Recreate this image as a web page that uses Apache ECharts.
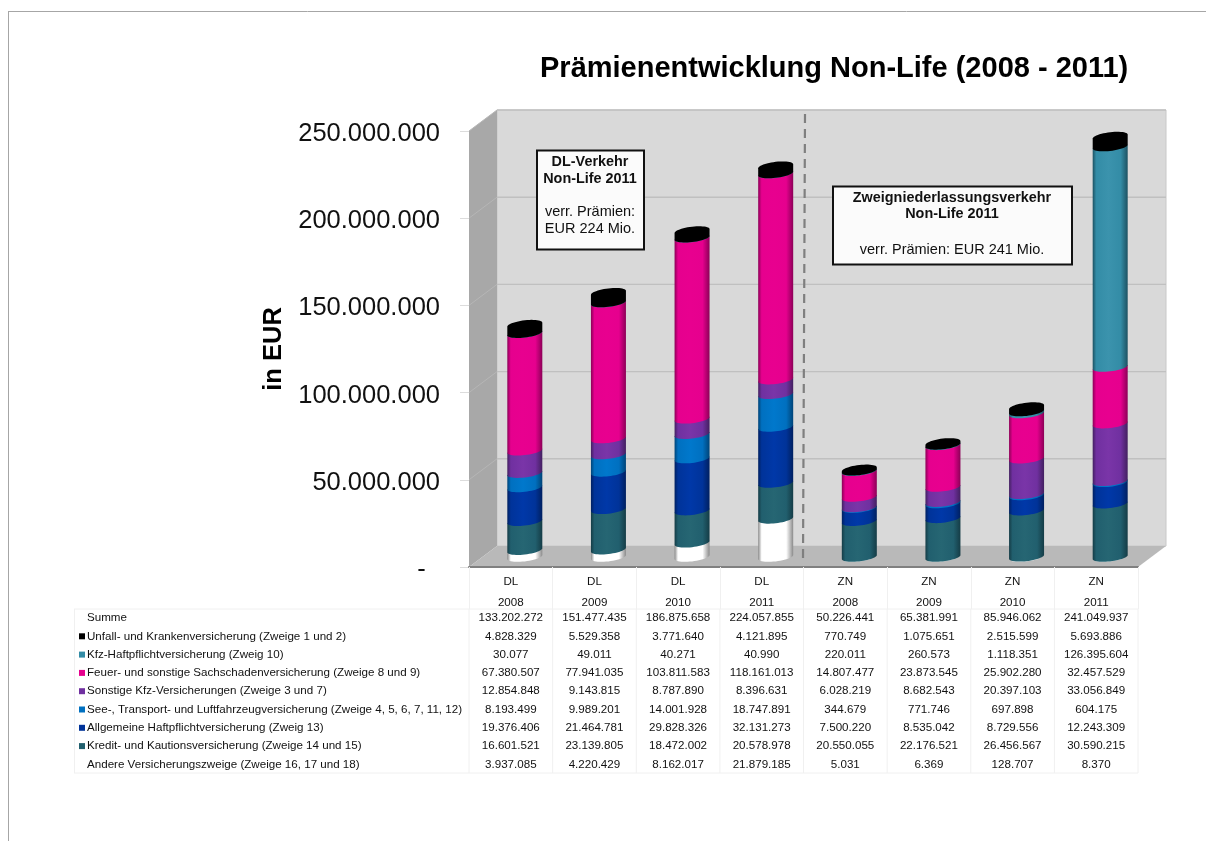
<!DOCTYPE html>
<html><head><meta charset="utf-8">
<style>html,body{margin:0;padding:0;background:#fff}#c{width:1206px;height:841px}</style>
<script src="https://cdn.jsdelivr.net/npm/echarts@6/dist/echarts.min.js"></script>
</head><body><div id="c"></div>
<script>
const sectors = ['DL','DL','DL','DL','ZN','ZN','ZN','ZN'];
const years = ['2008','2009','2010','2011','2008','2009','2010','2011'];
const summe = [133202272,151477435,186875658,224057855,50226441,65381991,85946062,241049937];
const unfall = [4828329,5529358,3771640,4121895,770749,1075651,2515599,5693886];
const kfzHaft = [30077,49011,40271,40990,220011,260573,1118351,126395604];
const feuer = [67380507,77941035,103811583,118161013,14807477,23873545,25902280,32457529];
const sonstKfz = [12854848,9143815,8787890,8396631,6028219,8682543,20397103,33056849];
const see = [8193499,9989201,14001928,18747891,344679,771746,697898,604175];
const allgemein = [19376406,21464781,29828326,32131273,7500220,8535042,8729556,12243309];
const kredit = [16601521,23139805,18472002,20578978,20550055,22176521,26456567,30590215];
const andere = [3937085,4220429,8162017,21879185,5031,6369,128707,8370];
const yTicks = [0,50000000,100000000,150000000,200000000,250000000];

// table order, top to bottom
const rows = [
  {name:'Unfall- und Krankenversicherung (Zweige 1 und 2)', values:unfall, color:'#000000', dark:'#000000', light:'#000000'},
  {name:'Kfz-Haftpflichtversicherung (Zweig 10)', values:kfzHaft, color:'#338ca6', dark:'#1d5262', light:'#3b93ad'},
  {name:'Feuer- und sonstige Sachschadenversicherung (Zweige 8 und 9)', values:feuer, color:'#e6008e', dark:'#8c0057', light:'#e8008f'},
  {name:'Sonstige Kfz-Versicherungen (Zweige 3 und 7)', values:sonstKfz, color:'#7030a0', dark:'#432060', light:'#7a35a8'},
  {name:'See-, Transport- und Luftfahrzeugversicherung (Zweige 4, 5, 6, 7, 11, 12)', values:see, color:'#0070c0', dark:'#004478', light:'#0078cc'},
  {name:'Allgemeine Haftpflichtversicherung (Zweig 13)', values:allgemein, color:'#003399', dark:'#002060', light:'#0038a8'},
  {name:'Kredit- und Kautionsversicherung (Zweige 14 und 15)', values:kredit, color:'#215f6e', dark:'#153c46', light:'#266673'},
  {name:'Andere Versicherungszweige (Zweige 16, 17 und 18)', values:andere, color:'#ffffff', dark:'#8a8a8a', light:'#ffffff', noKey:true}
];
const stackOrder = rows.slice().reverse();

const fmt = v => v === 0 ? '-  ' : String(v).replace(/\B(?=(\d{3})+$)/g,'.');
const DX = 28, DY = 21;          // depth of the 3D box
const BX = 14, BY = 10;          // bar offset from the front plane
const RW = 17.5, TILT = 2, RB = 4.4; // cylinder radius, tilt, ellipse minor radius

function ellipsePts(cx, y, from, to, sign){
  const pts = [];
  for (let i = 0; i <= 24; i++){
    const th = from + (to - from) * i / 24;
    pts.push([cx + RW*Math.cos(th), y - TILT*Math.cos(th) + sign*RB*Math.sin(th)]);
  }
  return pts;
}
function cyl(row, isTop){
  const g = new echarts.graphic.LinearGradient(0,0,1,0,[
    {offset:0,color:row.dark},{offset:.1,color:row.color},{offset:.45,color:row.light},
    {offset:.8,color:row.color},{offset:1,color:row.dark}]);
  return function(params, api){
    const p0 = api.coord([api.value(0), api.value(1)]);
    const p1 = api.coord([api.value(0), api.value(2)]);
    const cx = p0[0] + BX, y0 = p0[1] - BY, y1 = p1[1] - BY;
    const bottom = ellipsePts(cx, y0, 0, Math.PI, 1);
    const top = isTop ? ellipsePts(cx, y1, Math.PI, 0, -1) : [[cx-RW, y1+TILT],[cx+RW, y1-TILT]];
    return {type:'polygon', shape:{points: bottom.concat(top)}, style:{fill:g}};
  };
}
const cum = sectors.map(()=>0);
const barSeries = stackOrder.map((row, si) => {
  const data = row.values.map((v,i)=>{ const s = cum[i]; cum[i] += v; return [i, s, cum[i]]; });
  return {type:'custom', name:row.name, z:3, silent:true, coordinateSystem:'cartesian2d',
    encode:{x:0,y:[1,2]}, data, renderItem:cyl(row, si === stackOrder.length-1), animation:false};
});

const frameSeries = {type:'custom', name:'Wände', z:1, silent:true, animation:false, data:[[0,0]], encode:{x:0,y:1},
  renderItem(params, api){
    const c = params.coordSys, L=c.x, R=c.x+c.width, T=c.y, B=c.y+c.height;
    return {type:'group', children:[
      {type:'polygon', shape:{points:[[L+DX,T-DY],[R+DX,T-DY],[R+DX,B-DY],[L+DX,B-DY]]}, style:{fill:'#d9d9d9', stroke:'#c8c8c8', lineWidth:1}},
      {type:'polygon', shape:{points:[[L,T],[L+DX,T-DY],[L+DX,B-DY],[L,B]]}, style:{fill:'#a8a8a8'}},
      {type:'polygon', shape:{points:[[L,B],[L+DX,B-DY],[R+DX,B-DY],[R,B]]}, style:{fill:'#b9b9b9'}}
    ]};
  }};
const gridSeries = {type:'custom', name:'Gitter', z:2, silent:true, animation:false,
  data:yTicks.slice(1).map(v=>[0,v]), encode:{x:0,y:1},
  renderItem(params, api){
    const c = params.coordSys, y = api.coord([0, api.value(1)])[1];
    return {type:'group', children:[
      {type:'line', shape:{x1:c.x+DX,y1:y-DY,x2:c.x+c.width+DX,y2:y-DY}, style:{stroke:'#c0c0c0',lineWidth:1.4}},
      {type:'line', shape:{x1:c.x,y1:y,x2:c.x+DX,y2:y-DY}, style:{stroke:'#b6b6b6',lineWidth:1}}
    ]};
  }};

// table + annotations
const TXT = '#111';
const tableFont = '11.6px "Liberation Sans", Arial, sans-serif';
const COLS = sectors.map((_,i)=>469 + i*83.625);
const ROW0 = 618, ROWH = 18.3;
const g = [];
const line = (x1,y1,x2,y2,stroke,lineWidth,extra) => g.push(Object.assign({type:'line',silent:true,shape:{x1,y1,x2,y2},style:Object.assign({stroke,lineWidth},extra||{})},{z:1}));
const text = (x,y,t,font,align,fill) => g.push({type:'text',silent:true,x,y,z:10,style:{text:t,font,fill:fill||TXT,align:align||'left',verticalAlign:'middle'}});

line(8,11.5,1206,11.5,'#a6a6a6',1);
line(8.5,11,8.5,841,'#a6a6a6',1);
line(74,609,1138,609,'#f0f0f0',1);
line(74,773,1138,773,'#f0f0f0',1);
line(74.5,609,74.5,773,'#f0f0f0',1);
COLS.concat([1138]).forEach(x=>line(x,609,x,773,'#f0f0f0',1));

text(87,ROW0,'Summe',tableFont);
summe.forEach((v,i)=>text(COLS[i]+41.8,ROW0,fmt(v),tableFont,'center'));
rows.forEach((r,ri)=>{
  const y = ROW0 + (ri+1)*ROWH;
  if(!r.noKey) g.push({type:'rect',silent:true,z:10,shape:{x:79,y:y-3,width:6,height:6},style:{fill:r.color}});
  text(87,y,r.name,tableFont);
  r.values.forEach((v,i)=>text(COLS[i]+41.8,y,fmt(v),tableFont,'center'));
});

// dashed separator
g.push({type:'line',silent:true,z:6,shape:{x1:805,y1:114,x2:803,y2:562},style:{stroke:'#7f7f7f',lineWidth:2.2,lineDash:[9,6]}});

// note boxes
const B = 'bold 14.4px "Liberation Sans", Arial, sans-serif', N = '14.5px "Liberation Sans", Arial, sans-serif';
g.push({type:'rect',silent:true,z:7,shape:{x:537,y:150.5,width:107,height:99},style:{fill:'#fbfbfb',stroke:'#111',lineWidth:2}});
text(590,162,'DL-Verkehr',B,'center'); text(590,179,'Non-Life 2011',B,'center');
text(590,212,'verr. Prämien:',N,'center'); text(590,229,'EUR 224 Mio.',N,'center');
g.push({type:'rect',silent:true,z:7,shape:{x:833,y:186.5,width:239,height:78},style:{fill:'#fbfbfb',stroke:'#111',lineWidth:2}});
text(952,198,'Zweigniederlassungsverkehr',B,'center'); text(952,214,'Non-Life 2011',B,'center');
text(952,250,'verr. Prämien: EUR 241 Mio.',N,'center');

const chart = echarts.init(document.getElementById('c'), null, {renderer:'canvas'});
chart.setOption({
  animation:false,
  backgroundColor:'#fff',
  title:{text:'Prämienentwicklung Non-Life (2008 - 2011)', left:535, top:49,
    textStyle:{fontFamily:'Liberation Sans',fontWeight:'bold',fontSize:29,color:'#000'}},
  grid:{left:469, top:131, width:669, height:436, containLabel:false},
  xAxis:{type:'category', data:sectors.map((s,i)=>s+'\n'+years[i]), z:4,
    axisLine:{show:true,lineStyle:{color:'#808080',width:2}},
    axisTick:{show:true,length:42,lineStyle:{color:'#f0f0f0',width:1}},
    axisLabel:{interval:0,margin:4,fontFamily:'Liberation Sans',fontSize:11.6,lineHeight:21,color:TXT},
    splitLine:{show:false}},
  yAxis:{type:'value', min:0, max:250000000, interval:50000000,
    name:'in EUR', nameLocation:'middle', nameGap:177, nameRotate:90,
    nameTextStyle:{fontFamily:'Liberation Sans',fontWeight:'bold',fontSize:25.5,color:'#000'},
    axisLine:{show:false}, splitLine:{show:false},
    axisTick:{show:true,length:9,lineStyle:{color:'#dcdcdc',width:1}},
    axisLabel:{margin:29,fontFamily:'Liberation Sans',fontSize:25.5,color:'#111',verticalAlign:'top',lineHeight:6,formatter:fmt}},
  graphic:{elements:g},
  series:[frameSeries, gridSeries].concat(barSeries)
});
</script></body></html>
